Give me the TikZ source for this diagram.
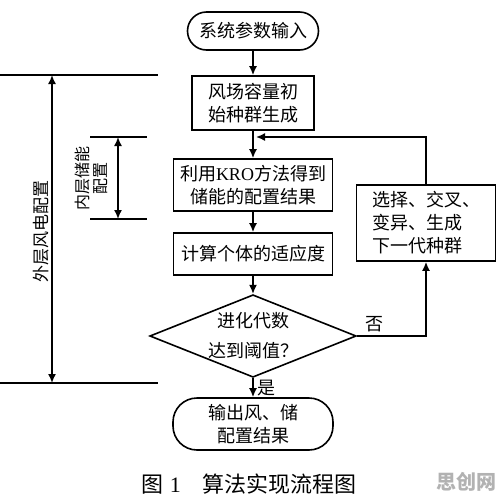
\documentclass[tikz,border=0pt]{standalone}
\usepackage{fontspec}
\setmainfont{Liberation Serif}
\newfontfamily\cjk{Noto Sans CJK SC}
\usepackage{tikz}
\usetikzlibrary{arrows.meta,shapes.geometric,positioning}

\begin{document}
\begin{tikzpicture}[x=1pt,y=-1pt,line width=1.6pt,
  every node/.style={align=center,font=\cjk\fontsize{18}{23}\selectfont},
  box/.style={draw,minimum width=159pt,minimum height=52pt,inner sep=2pt},
  term/.style={draw,rounded corners=19pt,minimum height=38pt},
  arr/.style={-{Latex[length=9pt,width=8pt]}},
  dim/.style={{Latex[length=9pt,width=8pt]}-{Latex[length=9pt,width=8pt]}}]
\useasboundingbox (0,0) rectangle (503,496);
% flow chart
\node[term,minimum width=131pt] (start) at (253,31) {系统参数输入};
\node[box,minimum width=122pt,minimum height=54pt] (init) at (253,103) {风场容量初\\始种群生成};
\node[box] (kro) at (253,185) {利用{\rmfamily KRO}方法得到\\储能的配置结果};
\node[box,minimum height=42pt] (fit) at (253,254) {计算个体的适应度};
\node[draw,diamond,aspect=2.5,minimum width=193pt,minimum height=78pt,inner sep=0pt] (dec) at (253,336) {进化代数\\[7pt]达到阈值？};
\node[term,rounded corners=24pt,minimum width=160pt,minimum height=52pt] (out) at (253,424) {输出风、储\\配置结果};
\node[box,minimum width=139pt,minimum height=76pt,align=left] (sel) at (426,223) {选择、交叉、\\变异、生成\\下一代种群};
\foreach \a/\b in {start/init,init/kro,kro/fit,fit/dec} \draw[arr] (\a) -- (\b);
\draw[arr] (dec) -- node[right]{是} (out);
\draw[arr] (dec.east) -| node[pos=0.13,above]{否} (sel.south);
\coordinate (loop) at (256,137);
\draw[arr] (sel.north) |- (loop);
% left marks
\coordinate (o1) at (52,75);
\coordinate (o2) at (52,383);
\coordinate (i1) at (118,137);
\coordinate (i2) at (118,219);
\draw (0,75) -- (158,75);
\draw (0,383) -- (158,383);
\draw (90,137) -- (147,137);
\draw (90,219) -- (147,219);
\draw[dim] (o1) -- (o2);
\draw[dim] (i1) -- (i2);
\node[rotate=90,font=\cjk\fontsize{17}{20}\selectfont] (olab) at (41,231) {外层风电配置};
\node[rotate=90,font=\cjk\fontsize{16}{18}\selectfont] (ilab) at (91,178) {内层储能\\配置};
% caption
\node[font=\cjk\fontsize{22}{24}\selectfont] (cap) at (249,484) {图\hspace{0.3em}{\rmfamily 1}\hspace{1em}算法实现流程图};
\node[text=gray!60,font=\cjk\bfseries\fontsize{20}{22}\selectfont] (wm) at (466,482) {思创网};
\end{tikzpicture}
\end{document}
